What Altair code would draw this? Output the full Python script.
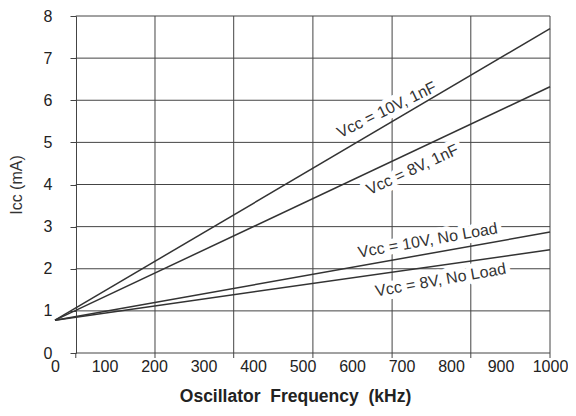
import altair as alt
import pandas as pd

# ---- data ----
series = ["Vcc = 10V, 1nF", "Vcc = 8V, 1nF", "Vcc = 10V, No Load", "Vcc = 8V, No Load"]
freq_start = [0, 0, 0, 0]
freq_end = [1000, 1000, 1000, 1000]
icc_start = [0.78, 0.78, 0.78, 0.78]
icc_end = [7.70, 6.32, 2.87, 2.45]

label_text = ["Vᴄᴄ = 10V, 1nF", "Vᴄᴄ = 8V, 1nF", "Vᴄᴄ = 10V, No Load", "Vᴄᴄ = 8V, No Load"]
label_freq = [670, 722, 753, 779]
label_icc = [5.77, 4.35, 2.67, 1.73]
label_angle = [334, 335, 350, 350]

x_ticks = list(range(0, 1001, 100))
y_ticks = list(range(0, 9))
grid_x = [42, 202, 361, 521, 681, 840, 1000]

FONT = "Liberation Sans"
W, H = 495, 337

rows = []
for s, f0, f1, a, b in zip(series, freq_start, freq_end, icc_start, icc_end):
    rows.append({"series": s, "freq": f0, "icc": a})
    rows.append({"series": s, "freq": f1, "icc": b})
lines_df = pd.DataFrame(rows)

labels_df = pd.DataFrame({"text": label_text, "freq": label_freq,
                          "icc": label_icc, "angle": label_angle})
hgrid_df = pd.DataFrame({"y": y_ticks, "x0": [grid_x[0]] * len(y_ticks),
                         "x1": [grid_x[-1]] * len(y_ticks)})
vgrid_df = pd.DataFrame({"x": grid_x[1:], "y0": [0] * (len(grid_x) - 1),
                         "y1": [8] * (len(grid_x) - 1)})
vtick_df = pd.DataFrame({"x": grid_x})

xs = alt.Scale(domain=[0, 1000], nice=False, zero=False)
ys = alt.Scale(domain=[0, 8], nice=False, zero=False)

xaxis = alt.Axis(values=x_ticks, format="d", ticks=False, tickSize=0, domain=False, grid=False,
                 labelPadding=5, labelFontSize=16, labelFont=FONT, labelColor="#222",
                 labelFlush=False, labelOverlap=False,
                 title="Oscillator\u00a0\u00a0Frequency\u00a0\u00a0(kHz)",
                 titleFont=FONT, titleFontSize=17.5, titleFontWeight="bold", titleColor="#222",
                 titleX=240, titleY=34, titleBaseline="top", titleAlign="center")
yaxis = alt.Axis(values=y_ticks, format="d", offset=-21, tickSize=6, labelPadding=18,
                 labelFontSize=16, labelFont=FONT, labelColor="#222",
                 domainColor="#444", tickColor="#444", grid=False,
                 title="Icc (mA)", titleFont=FONT, titleFontSize=16,
                 titleFontWeight="normal", titleColor="#333",
                 titleX=-52, titleY=H / 2, titleAngle=270,
                 titleBaseline="bottom", titleAlign="center")

hgrid = alt.Chart(hgrid_df).mark_rule(color="#444", strokeWidth=1).encode(
    x=alt.X("x0:Q", scale=xs, axis=xaxis), x2="x1:Q",
    y=alt.Y("y:Q", scale=ys, axis=yaxis))

vgrid = alt.Chart(vgrid_df).mark_rule(color="#444", strokeWidth=1).encode(
    x=alt.X("x:Q", scale=xs, axis=xaxis),
    y=alt.Y("y0:Q", scale=ys, axis=yaxis), y2="y1:Q")

vticks = alt.Chart(vtick_df).mark_rule(color="#444", strokeWidth=1).encode(
    x=alt.X("x:Q", scale=xs, axis=xaxis),
    y=alt.value(H), y2=alt.value(H + 5))

halo = alt.Chart(labels_df).mark_text(
    font=FONT, fontSize=16, color="white", stroke="white", strokeWidth=10,
    strokeJoin="round", align="center", baseline="middle").encode(
    x=alt.X("freq:Q", scale=xs, axis=xaxis),
    y=alt.Y("icc:Q", scale=ys, axis=yaxis),
    angle=alt.Angle("angle:Q", scale=None), text="text:N")

lines = alt.Chart(lines_df).mark_line(color="#333", strokeWidth=1.5).encode(
    x=alt.X("freq:Q", scale=xs, axis=xaxis),
    y=alt.Y("icc:Q", scale=ys, axis=yaxis),
    detail="series:N")

text = alt.Chart(labels_df).mark_text(
    font=FONT, fontSize=16, color="#333", align="center", baseline="middle").encode(
    x=alt.X("freq:Q", scale=xs, axis=xaxis),
    y=alt.Y("icc:Q", scale=ys, axis=yaxis),
    angle=alt.Angle("angle:Q", scale=None), text="text:N")

chart = alt.layer(hgrid, vgrid, vticks, halo, lines, text).properties(
    width=W, height=H,
    autosize=alt.AutoSizeParams(type="none"),
    padding={"left": 47, "top": 8, "right": 18, "bottom": 55},
    background="white",
).configure_view(stroke=None)

chart.save("out.html", embed_options={"renderer": "svg", "actions": False})
